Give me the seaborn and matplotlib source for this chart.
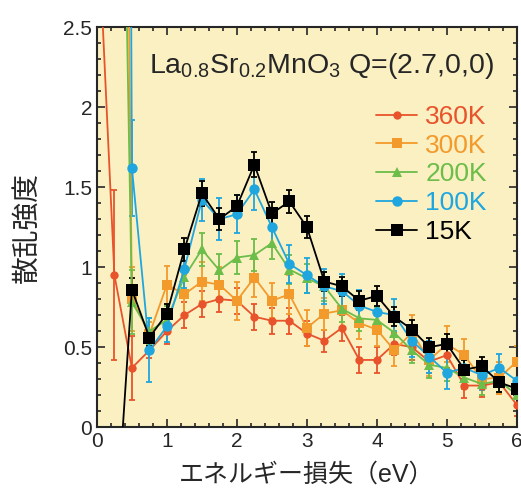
import numpy as np
import pandas as pd
import seaborn as sns
import matplotlib.pyplot as plt
from matplotlib.lines import Line2D
from matplotlib.ticker import MultipleLocator, FuncFormatter

sns.set_style("ticks")
plt.rcParams['font.family'] = ['Liberation Sans', 'Noto Sans CJK JP', 'DejaVu Sans']
plt.rcParams['mathtext.fontset'] = 'custom'
plt.rcParams['mathtext.rm'] = 'Liberation Sans'

# energy loss grid (eV)
energy = [0.25, 0.5, 0.75, 1.0, 1.25, 1.5, 1.75, 2.0, 2.25, 2.5, 2.75, 3.0,
          3.25, 3.5, 3.75, 4.0, 4.25, 4.5, 4.75, 5.0, 5.25, 5.5, 5.75, 6.0]
energy_360 = [0.0] + energy

int_360 = [3.3, 0.95, 0.37, 0.48, 0.60, 0.70, 0.77, 0.80, 0.79, 0.69, 0.665, 0.665, 0.585,
           0.54, 0.62, 0.42, 0.42, 0.52, 0.50, 0.41, 0.45, 0.26, 0.26, 0.28, 0.14]
err_360 = [0.3, 0.53, 0.2, 0.05, 0.08, 0.08, 0.08, 0.08, 0.08, 0.08, 0.08, 0.08, 0.08,
           0.07, 0.08, 0.08, 0.08, 0.07, 0.08, 0.07, 0.08, 0.08, 0.07, 0.07, 0.07]

int_300 = [11.4, 0.80, 0.58, 0.89, 0.83, 0.91, 0.89, 0.79, 0.935, 0.79, 0.83, 0.62,
           0.71, 0.73, 0.65, 0.61, 0.48, 0.59, 0.42, 0.52, 0.45, 0.30, 0.31, 0.41]
err_300 = [0.5, 0.2, 0.08, 0.12, 0.12, 0.12, 0.11, 0.12, 0.12, 0.11, 0.12, 0.11,
           0.1, 0.11, 0.1, 0.1, 0.1, 0.11, 0.1, 0.11, 0.1, 0.1, 0.1, 0.1]

int_200 = [6.9, 0.78, 0.60, 0.67, 0.94, 1.11, 0.98, 1.06, 1.075, 1.15, 0.985, 0.93,
           0.88, 0.74, 0.68, 0.67, 0.59, 0.48, 0.39, 0.37, 0.31, 0.27, 0.29, 0.20]
err_200 = [0.5, 0.2, 0.08, 0.09, 0.1, 0.1, 0.1, 0.1, 0.1, 0.1, 0.09, 0.09,
           0.09, 0.08, 0.08, 0.08, 0.08, 0.08, 0.08, 0.08, 0.07, 0.07, 0.07, 0.07]

int_100 = [25.0, 1.62, 0.48, 0.63, 0.99, 1.42, 1.30, 1.33, 1.485, 1.25, 1.02, 0.95,
           0.88, 0.85, 0.76, 0.72, 0.70, 0.54, 0.44, 0.34, 0.37, 0.325, 0.37, 0.29]
err_100 = [0.5, 0.3, 0.2, 0.1, 0.12, 0.13, 0.13, 0.12, 0.13, 0.12, 0.12, 0.11,
           0.11, 0.11, 0.1, 0.1, 0.1, 0.1, 0.1, 0.1, 0.09, 0.09, 0.09, 0.09]

int_15 = [-0.8, 0.86, 0.56, 0.71, 1.11, 1.46, 1.30, 1.38, 1.64, 1.335, 1.41, 1.25,
          0.91, 0.88, 0.79, 0.82, 0.69, 0.61, 0.50, 0.52, 0.36, 0.38, 0.28, 0.24]
err_15 = [0.1, 0.07, 0.05, 0.06, 0.07, 0.08, 0.07, 0.07, 0.08, 0.07, 0.07, 0.07,
          0.06, 0.06, 0.06, 0.06, 0.06, 0.06, 0.06, 0.06, 0.06, 0.06, 0.06, 0.06]

labels = ['360K', '300K', '200K', '100K', '15K']
colors = ['#E8532B', '#F39A2C', '#6CBD4A', '#1FA6DF', '#000000']
markers = ['o', 's', '^', 'o', 's']
msizes = [6, 7, 7, 7.5, 8.5]

series = [(energy_360, int_360, err_360), (energy, int_300, err_300),
          (energy, int_200, err_200), (energy, int_100, err_100),
          (energy, int_15, err_15)]

fig = plt.figure(figsize=(5.21, 4.91), dpi=100)
ax = fig.add_axes([0.186, 0.130, 0.806, 0.815])
ax.set_facecolor('#FAF0C2')

for (xs, ys, es), lab, c, m, ms in zip(series, labels, colors, markers, msizes):
    df = pd.DataFrame({'E': xs, 'I': ys})
    ax.errorbar(xs, ys, yerr=es, fmt='none', ecolor=c, elinewidth=1.3,
                capsize=2.5, capthick=1.3, zorder=2)
    sns.lineplot(data=df, x='E', y='I', color=c, marker=m, markersize=ms,
                 markeredgewidth=0, linewidth=1.3, ax=ax, legend=False,
                 sort=False, zorder=3)

ax.set_xlim(0, 6)
ax.set_ylim(0, 2.5)
ax.xaxis.set_major_locator(MultipleLocator(1))
ax.xaxis.set_minor_locator(MultipleLocator(0.2))
ax.yaxis.set_major_locator(MultipleLocator(0.5))
ax.yaxis.set_minor_locator(MultipleLocator(0.1))
ax.yaxis.set_major_formatter(FuncFormatter(lambda v, p: '%g' % v))
ax.tick_params(which='both', direction='in', top=True, right=True, width=1.2)
ax.tick_params(which='major', length=6, labelsize=15)
ax.tick_params(which='minor', length=3)
for s in ax.spines.values():
    s.set_linewidth(1.5)

ax.set_xlabel('エネルギー損失（eV）', fontsize=18, labelpad=8)
ax.set_ylabel('散乱強度', fontsize=20, labelpad=16)

ax.text(0.125, 0.885, r'La$_{0.8}$Sr$_{0.2}$MnO$_3$ Q=(2.7,0,0)', transform=ax.transAxes,
        fontsize=20.5, ha='left', va='baseline')

handles = [Line2D([], [], color=c, marker=m, markersize=ms, markeredgewidth=0, linewidth=1.3)
           for c, m, ms in zip(colors, markers, msizes)]
leg = ax.legend(handles, labels, loc='upper right', bbox_to_anchor=(0.985, 0.865),
                frameon=False, fontsize=19, handlelength=1.55, handletextpad=0.3,
                labelspacing=0.18, labelcolor=colors)

sns.despine(ax=ax, top=False, right=False)
fig.savefig('out.png', dpi=100)
